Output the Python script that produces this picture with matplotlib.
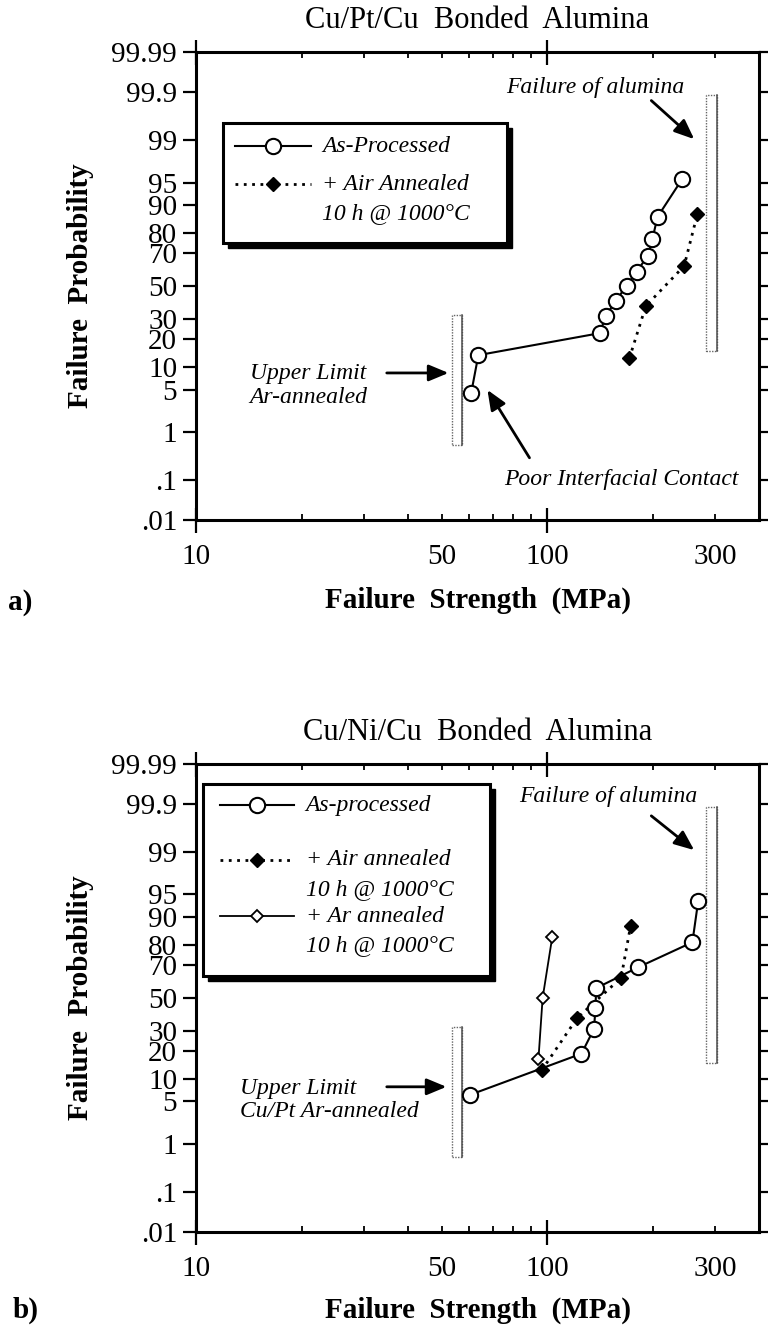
import math

import numpy as np
import matplotlib
matplotlib.use("Agg")
import matplotlib.pyplot as plt
from matplotlib.patches import Rectangle
from matplotlib.ticker import NullFormatter

plt.rcParams['font.family'] = ['Liberation Serif', 'DejaVu Serif']

# ---- data (strength in MPa, probability in %)
pt_asproc_mpa = [60.7, 63.6, 141.0, 146.6, 156.6, 167.9, 179.3, 192.8, 199.0, 205.7, 241.5]
pt_asproc_prob = [4.5, 13.6, 22.7, 31.8, 40.9, 50.0, 59.1, 68.2, 77.3, 86.4, 95.5]
pt_air_mpa = [171.0, 190.5, 244.9, 267.3]
pt_air_prob = [12.5, 37.5, 62.5, 87.5]

ni_asproc_mpa = [60.3, 125.0, 135.7, 137.0, 137.6, 181.6, 258.5, 268.5]
ni_asproc_prob = [6.2, 18.8, 31.2, 43.8, 56.2, 68.8, 81.2, 93.8]
ni_air_mpa = [96.3, 121.5, 162.0, 172.5]
ni_air_prob = [12.5, 37.5, 62.5, 87.5]
ni_ar_mpa = [94.3, 96.9, 103.2]
ni_ar_prob = [16.7, 50.0, 83.3]

# shaded limit bands (x range MPa, y range %)
ar_limit_mpa = [53.4, 57.0]
ar_limit_prob = [0.57, 32.0]
alumina_mpa = [283.0, 304.0]
alumina_prob = [15.0, 99.88]

prob_ticks = [0.01, 0.1, 1, 5, 10, 20, 30, 50, 70, 80, 90, 95, 99, 99.9, 99.99]
prob_labels = ['.01', '.1', '1', '5', '10', '20', '30', '50', '70', '80', '90', '95', '99', '99.9', '99.99']
x_ticks = [10, 50, 100, 300]
x_labels = ['10', '50', '100', '300']
x_minor = [20, 30, 40, 50, 60, 70, 80, 90, 200, 300]


# normal probability scale (Acklam's inverse normal approximation)
A = [-3.969683028665376e+01, 2.209460984245205e+02, -2.759285104469687e+02,
     1.383577518672690e+02, -3.066479806614716e+01, 2.506628277459239e+00]
B = [-5.447609879822406e+01, 1.615858368580409e+02, -1.556989798598866e+02,
     6.680131188771972e+01, -1.328068155288572e+01]
C = [-7.784894002430293e-03, -3.223964580411365e-01, -2.400758277161838e+00,
     -2.549732539343734e+00, 4.374664141464968e+00, 2.938163982698783e+00]
D = [7.784695709041462e-03, 3.224671290700398e-01, 2.445134137142996e+00,
     3.754408661907416e+00]


def probit(pct):
    p = np.clip(np.asarray(pct, dtype=float) / 100.0, 1e-12, 1 - 1e-12)
    plow = 0.02425
    with np.errstate(all='ignore'):
        q = np.sqrt(-2 * np.log(p))
        lo = (((((C[0]*q + C[1])*q + C[2])*q + C[3])*q + C[4])*q + C[5]) / \
             ((((D[0]*q + D[1])*q + D[2])*q + D[3])*q + 1)
        q = p - 0.5
        r = q * q
        mid = (((((A[0]*r + A[1])*r + A[2])*r + A[3])*r + A[4])*r + A[5])*q / \
              (((((B[0]*r + B[1])*r + B[2])*r + B[3])*r + B[4])*r + 1)
        q = np.sqrt(-2 * np.log(1 - p))
        hi = -(((((C[0]*q + C[1])*q + C[2])*q + C[3])*q + C[4])*q + C[5]) / \
              ((((D[0]*q + D[1])*q + D[2])*q + D[3])*q + 1)
    return np.where(p < plow, lo, np.where(p > 1 - plow, hi, mid))


_erf = np.vectorize(math.erf)


def normcdf(z):
    z = np.asarray(z, dtype=float)
    return 50.0 * (1.0 + _erf(z / math.sqrt(2)))


def setup_axes(ax, title):
    ax.set_xscale('log')
    ax.set_yscale('function', functions=(probit, normcdf))
    ax.set_xlim(10, 400)
    ax.set_ylim(0.01, 99.99)

    ax.set_yticks(prob_ticks)
    ax.set_yticklabels(prob_labels)
    ax.yaxis.set_minor_formatter(NullFormatter())
    ax.tick_params(axis='y', which='minor', left=False, right=False)
    ax.tick_params(axis='y', which='major', direction='out', length=9.5, width=1.6,
                   labelsize=21, pad=4, left=True, right=True)

    ax.xaxis.remove_overlapping_locs = False
    ax.set_xticks(x_ticks)
    ax.set_xticklabels(x_labels)
    ax.set_xticks(x_minor, minor=True)
    ax.xaxis.set_minor_formatter(NullFormatter())
    ax.tick_params(axis='x', which='major', direction='inout', length=18, width=1.6,
                   labelsize=21, pad=8, top=True, bottom=True)
    ax.tick_params(axis='x', which='minor', direction='in', length=4, width=1.3,
                   top=True, bottom=True)
    ticks = ax.xaxis.get_major_ticks()
    for t in (ticks[1], ticks[3]):
        t.tick1line.set_visible(False)
        t.tick2line.set_visible(False)

    for s in ax.spines.values():
        s.set_linewidth(2.2)

    ax.set_title(title, fontsize=22, y=1.067, va='center', pad=0)
    ax.set_xlabel('Failure  Strength  (MPa)', fontsize=21, fontweight='bold')
    ax.xaxis.label.set_va('center')
    ax.set_ylabel('Failure  Probability', fontsize=21, fontweight='bold')
    ax.yaxis.label.set_va('center')
    ax.yaxis.set_label_coords(-0.206, 0.5)


def draw_band(ax, xr, yr):
    ax.add_patch(Rectangle((xr[0], yr[0]), xr[1] - xr[0], yr[1] - yr[0], fill=False,
                           ec='0.4', lw=1.0, ls=(0, (1, 1)), zorder=2))
    ax.plot([xr[1], xr[1]], yr, color='0.3', lw=1.1, zorder=2)


def draw_key(ax, box, rows, line_x, text_x):
    x0, y0, x1, y1 = box
    ax.add_patch(Rectangle((x0 + 0.009, y0 - 0.011), x1 - x0, y1 - y0, transform=ax.transAxes,
                           fc='black', ec='black', lw=1, zorder=5, clip_on=False))
    ax.add_patch(Rectangle((x0, y0), x1 - x0, y1 - y0, transform=ax.transAxes,
                           fc='white', ec='black', lw=2.2, zorder=6, clip_on=False))
    for y, style, lines in rows:
        xs = [line_x[0], (line_x[0] + line_x[1]) / 2, line_x[1]]
        ax.plot(xs, [y, y, y], transform=ax.transAxes, markevery=[1], zorder=7,
                clip_on=False, **style)
        for k, txt in enumerate(lines):
            ax.text(text_x, y - k * 0.064, txt, transform=ax.transAxes, fontsize=17,
                    style='italic', va='center', ha='left', zorder=7)


circle = dict(color='black', lw=1.5, marker='o', ms=11, mfc='white', mec='black', mew=1.5)
filled_d = dict(color='black', lw=2.0, ls=(0, (1, 2)), marker='D', ms=7.5,
                mfc='black', mec='black')
open_d = dict(color='black', lw=1.3, marker='D', ms=6.5, mfc='white', mec='black', mew=1.3)
arrow = dict(arrowstyle='-|>,head_length=0.6,head_width=0.25', color='black', lw=2,
             mutation_scale=20, shrinkA=0, shrinkB=0)
note = dict(fontsize=17, style='italic')

fig = plt.figure(figsize=(7.68, 13.27), dpi=100)

# ---------------- a) Cu/Pt/Cu
ax1 = fig.add_axes([0.2552, 0.6081, 0.7331, 0.3527])
setup_axes(ax1, 'Cu/Pt/Cu  Bonded  Alumina')
ax1.xaxis.set_label_coords(0.5, -0.171)
draw_band(ax1, ar_limit_mpa, ar_limit_prob)
draw_band(ax1, alumina_mpa, alumina_prob)
ax1.plot(pt_asproc_mpa, pt_asproc_prob, zorder=4, **circle)
ax1.plot(pt_air_mpa, pt_air_prob, zorder=4, **filled_d)

ax1.text(136.5, 99.918, 'Failure of alumina', ha='center', va='center', **note)
ax1.annotate('', xy=(261.6, 99.02), xytext=(197.5, 99.84), arrowprops=arrow)
ax1.text(14.2, 5.7, 'Upper Limit\nAr-annealed', ha='left', va='center', linespacing=1.15, **note)
ax1.annotate('', xy=(52.3, 8.36), xytext=(34.9, 8.36), arrowprops=arrow)
ax1.text(162.8, 0.104, 'Poor Interfacial Contact', ha='center', va='center', **note)
ax1.annotate('', xy=(67.5, 4.94), xytext=(88.9, 0.317), arrowprops=arrow)

draw_key(ax1, (0.048, 0.592, 0.552, 0.848),
         [(0.799, circle, ['As-Processed']),
          (0.718, filled_d, ['+ Air Annealed', '10 h @ 1000°C'])],
         (0.069, 0.204), 0.224)

# ---------------- b) Cu/Ni/Cu
ax2 = fig.add_axes([0.2552, 0.0716, 0.7331, 0.3527])
setup_axes(ax2, 'Cu/Ni/Cu  Bonded  Alumina')
ax2.xaxis.set_label_coords(0.5, -0.167)
draw_band(ax2, ar_limit_mpa, ar_limit_prob)
draw_band(ax2, alumina_mpa, alumina_prob)
ax2.plot(ni_asproc_mpa, ni_asproc_prob, zorder=4, **circle)
ax2.plot(ni_air_mpa, ni_air_prob, zorder=3, **filled_d)
ax2.plot(ni_ar_mpa, ni_ar_prob, zorder=4, **open_d)

ax2.text(148.6, 99.93, 'Failure of alumina', ha='center', va='center', **note)
ax2.annotate('', xy=(261.6, 99.06), xytext=(197.5, 99.81), arrowprops=arrow)
ax2.text(13.3, 5.2, 'Upper Limit\nCu/Pt Ar-annealed', ha='left', va='center', linespacing=1.15, **note)
ax2.annotate('', xy=(51.6, 7.9), xytext=(34.9, 7.9), arrowprops=arrow)

draw_key(ax2, (0.0124, 0.547, 0.522, 0.957),
         [(0.912, circle, ['As-processed']),
          (0.795, filled_d, ['+ Air annealed', '10 h @ 1000°C']),
          (0.675, open_d, ['+ Ar annealed', '10 h @ 1000°C'])],
         (0.043, 0.174), 0.195)

fig.text(0.010, 0.5463, 'a)', fontsize=21, fontweight='bold', va='center', ha='left')
fig.text(0.017, 0.0128, 'b)', fontsize=21, fontweight='bold', va='center', ha='left')

fig.savefig('out.png', dpi=100)
plt.close(fig)
